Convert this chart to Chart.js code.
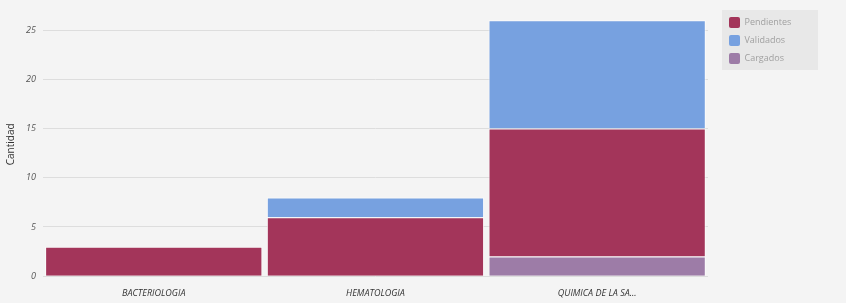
<!DOCTYPE html>
<html>
<head>
<meta charset="utf-8">
<script src="https://cdn.jsdelivr.net/npm/chart.js@4"></script>
<style>
  html, body { margin: 0; padding: 0; background: #f4f4f4; }
  #wrap { width: 846px; height: 303px; }
</style>
</head>
<body>
<div id="wrap"><canvas id="areas"></canvas></div>
<script>
// data
const categories = ['BACTERIOLOGIA', 'HEMATOLOGIA', 'QUIMICA DE LA SA...'];
const cargados = [0, 0, 2];
const pendientes = [3, 6, 13];
const validados = [0, 2, 11];
const yTicks = [0, 5, 10, 15, 20, 25];

// legend: a bit of space before it and a grey box behind it
const legendBox = {
    id: 'legendBox',
    afterInit(chart) {
        const l = chart.legend;
        const fit = l.fit;
        l.fit = function () {
            fit.call(this);
            this.width = 110;
        };
        const draw = l.draw;
        l.draw = function () {
            const ctx = this.ctx;
            const boxes = this.legendHitBoxes;
            const last = boxes[boxes.length - 1];
            const bottom = last ? last.top + last.height + 6 : this.bottom;
            ctx.save();
            ctx.translate(14, 0);
            ctx.fillStyle = '#e8e8e8';
            ctx.fillRect(this.left, this.top, 96, bottom - this.top);
            draw.call(this);
            ctx.restore();
        };
    }
};

new Chart(document.getElementById('areas').getContext('2d'), {
    type: 'bar',
    data: {
        labels: categories,
        datasets: [{
            label: 'Pendientes',
            data: pendientes,
            backgroundColor: '#a3355a',
            borderColor: 'rgba(255,255,255,0.7)',
            borderWidth: 1,
            order: 2
        }, {
            label: 'Validados',
            data: validados,
            backgroundColor: '#77a1e0',
            borderColor: 'rgba(255,255,255,0.7)',
            borderWidth: 1,
            order: 3
        }, {
            label: 'Cargados',
            data: cargados,
            backgroundColor: '#9d7ca7',
            borderColor: 'rgba(255,255,255,0.7)',
            borderWidth: 1,
            order: 1
        }]
    },
    plugins: [legendBox],
    options: {
        responsive: true,
        maintainAspectRatio: false,
        animation: false,
        layout: { padding: { top: 10, right: 28, bottom: 0, left: 3 } },
        datasets: { bar: { barPercentage: 0.98, categoryPercentage: 1 } },
        plugins: {
            tooltip: { enabled: false },
            legend: {
                position: 'right',
                align: 'start',
                labels: {
                    boxWidth: 11,
                    boxHeight: 11,
                    padding: 7,
                    color: '#a0a0a0',
                    font: { family: 'Open Sans', size: 9 },
                    generateLabels(chart) {
                        return chart.data.datasets.map((ds, i) => ({
                            text: ds.label,
                            fillStyle: ds.backgroundColor,
                            strokeStyle: ds.backgroundColor,
                            lineWidth: 0,
                            fontColor: '#a0a0a0',
                            borderRadius: 2,
                            datasetIndex: i
                        }));
                    }
                }
            }
        },
        scales: {
            x: {
                stacked: true,
                grid: { display: false },
                border: { display: false },
                ticks: {
                    color: '#333',
                    font: { family: 'Open Sans', size: 9, style: 'italic' },
                    padding: 4
                }
            },
            y: {
                stacked: true,
                min: 0,
                max: 26.8,
                afterBuildTicks(scale) {
                    scale.ticks = yTicks.map(v => ({ value: v }));
                },
                title: {
                    display: true,
                    text: 'Cantidad',
                    color: '#333',
                    padding: 2,
                    font: { family: 'Open Sans', size: 10 }
                },
                grid: { color: '#dddddd', drawTicks: false },
                border: { display: false },
                ticks: {
                    color: '#555',
                    padding: 7,
                    font: { family: 'Open Sans', size: 9, style: 'italic' }
                }
            }
        }
    }
});
</script>
</body>
</html>
